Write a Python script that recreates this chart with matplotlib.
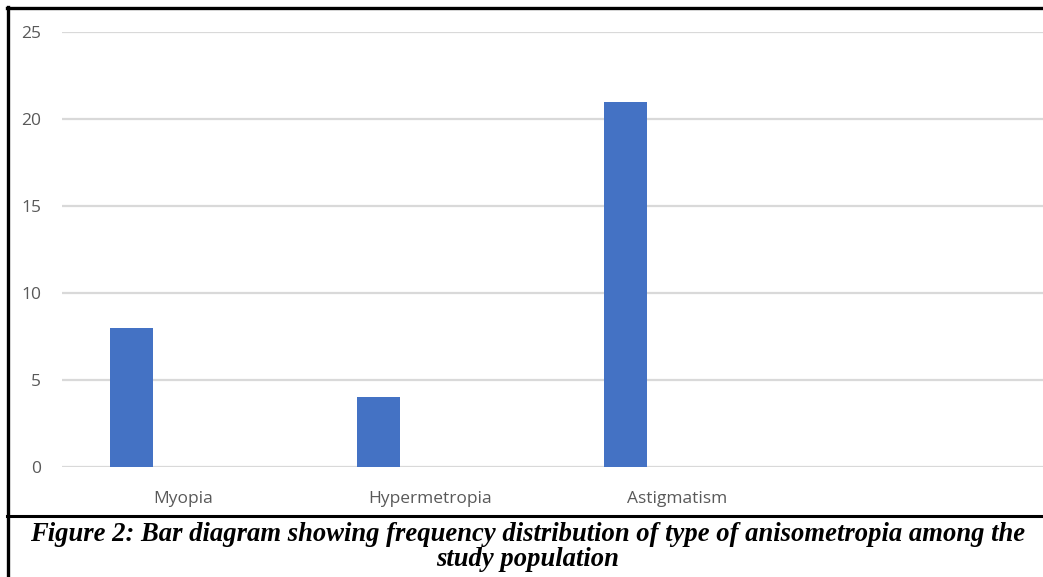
import matplotlib

matplotlib.use("Agg")
import matplotlib.pyplot as plt
from matplotlib.lines import Line2D

# frequency of each type of anisometropia
categories = ["Myopia", "Hypermetropia", "Astigmatism"]
counts = [8, 4, 21]
y_ticks = [0, 5, 10, 15, 20, 25]

caption = ("Figure 2: Bar diagram showing frequency distribution of type of anisometropia among the\n"
           "study population")

W, H = 1043, 577
fig = plt.figure(figsize=(W / 100, H / 100), dpi=100)

# plot area spans four category slots, the last one empty and running off the page
ax = fig.add_axes([62 / W, (H - 467) / H, 988 / W, 435 / H])
xs = list(range(len(categories)))
ax.bar([x - 0.22 for x in xs], counts, width=0.175, color="#4472C4", zorder=3)
ax.set_xlim(-0.5, 3.5)
ax.set_ylim(0, 25)
ax.set_yticks(y_ticks)
ax.set_xticks([x - 0.01 for x in xs])
ax.set_xticklabels(categories)
ax.grid(axis="y", color="#d9d9d9", linewidth=1.6, zorder=0)
for s in ax.spines.values():
    s.set_visible(False)
ax.tick_params(axis="both", length=0, colors="#595959", labelsize=12.5)
ax.tick_params(axis="y", pad=15)
ax.tick_params(axis="x", pad=17)
for lab in ax.get_xticklabels() + ax.get_yticklabels():
    lab.set_fontfamily("Open Sans")

# frame around the figure and the rule above the caption
fig.add_artist(Line2D([7 / W, 1], [1 - 8 / H, 1 - 8 / H], color="black", linewidth=2.4))
fig.add_artist(Line2D([8 / W, 8 / W], [0, 1 - 7 / H], color="black", linewidth=2.4))
fig.add_artist(Line2D([7 / W, 1], [1 - 516 / H, 1 - 516 / H], color="black", linewidth=2.2))

fig.text(528 / W, 1 - 547 / H, caption, ha="center", va="center",
         fontfamily="Liberation Serif", fontweight="bold", fontstyle="italic",
         fontsize=19.2, linespacing=0.95)

fig.savefig("out.png", dpi=100)
